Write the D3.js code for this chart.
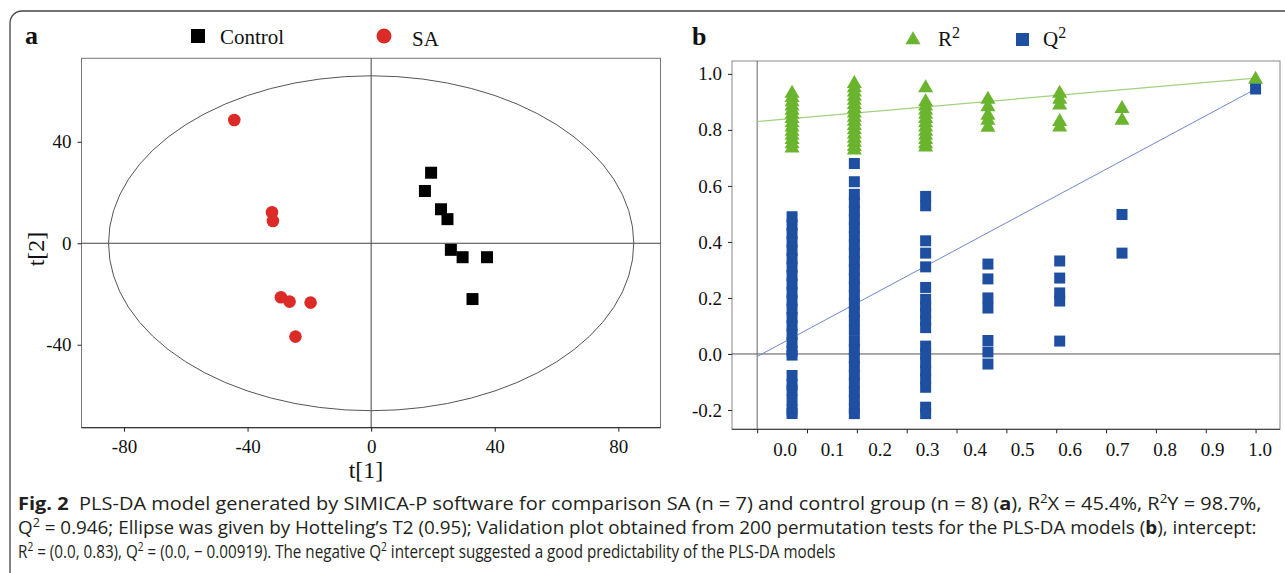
<!DOCTYPE html>
<html>
<head>
<meta charset="utf-8">
<script src="https://cdn.jsdelivr.net/npm/d3@7"></script>
<style>
  html, body { margin: 0; padding: 0; background: #fff; }
  svg { display: block; }
  .serif { font-family: "Liberation Serif", "DejaVu Serif", serif; fill: #111; }
  .cap { font-family: "Open Sans", "Noto Sans", sans-serif; fill: #231f20; font-size: 18px; white-space: pre; }
</style>
</head>
<body>
<svg id="fig" width="1285" height="573"></svg>
<script>
"use strict";

// ---- panel a: PLS-DA score plot ----
const scoreGroups = ["Control", "SA"];
const controlT1 = [19.4, 17.4, 22.6, 24.7, 25.8, 29.6, 37.5, 32.8];
const controlT2 = [27.8, 20.6, 13.4, 9.5, -2.6, -5.5, -5.5, -22.0];
const saT1 = [-44.3, -32.1, -31.8, -29.2, -26.4, -19.6, -24.5];
const saT2 = [48.6, 12.2, 8.8, -21.3, -23.0, -23.4, -36.8];
const hotelling = [85, 66];          // ellipse radii on t[1], t[2]
const t1Ticks = [-80, -40, 0, 40, 80];
const t2Ticks = [-40, 0, 40];

// ---- panel b: permutation validation ----
const permCorr = [0.07, 0.195, 0.338, 0.463, 0.607, 0.732, 1.0];
const r2Values = [
  [0.93, 0.915, 0.9, 0.885, 0.87, 0.855, 0.84, 0.825, 0.81, 0.795, 0.78, 0.765, 0.75, 0.735],
  [0.965, 0.95, 0.935, 0.92, 0.905, 0.89, 0.875, 0.86, 0.845, 0.83, 0.815, 0.8, 0.785, 0.77, 0.755, 0.74, 0.728],
  [0.95, 0.9, 0.885, 0.87, 0.855, 0.84, 0.825, 0.81, 0.795, 0.78, 0.765, 0.75, 0.738],
  [0.909, 0.882, 0.852, 0.834, 0.809],
  [0.93, 0.909, 0.888, 0.829, 0.81],
  [0.876, 0.834],
  [0.98]
];
const q2Values = [
  [0.49, 0.46, 0.43, 0.4, 0.37, 0.34, 0.31, 0.28, 0.25, 0.22, 0.19, 0.16, 0.13, 0.1, 0.07, 0.04, 0.01, -0.004,
   -0.077, -0.11, -0.13, -0.165, -0.2, -0.2125],
  [0.68, 0.615, 0.57, 0.54, 0.51, 0.48, 0.45, 0.42, 0.39, 0.36, 0.33, 0.3, 0.27, 0.24, 0.21, 0.18, 0.15, 0.12,
   0.084, 0.045, 0.015, -0.015, -0.045, -0.075, -0.105, -0.135, -0.165, -0.195, -0.213],
  [0.5625, 0.529, 0.404, 0.36, 0.311, 0.2375, 0.195, 0.17, 0.145, 0.12, 0.094,
   0.028, 0.0, -0.03, -0.06, -0.09, -0.119, -0.19, -0.213],
  [0.321, 0.268, 0.2, 0.164, 0.048, 0.007, -0.036],
  [0.332, 0.271, 0.218, 0.189, 0.046],
  [0.498, 0.36],
  [0.946]
];
const r2Intercept = [0.83, 0.985];    // fitted line at corr 0 and 1
const q2Intercept = [-0.00919, 0.946];
const corrTicks = [0, 0.1, 0.2, 0.3, 0.4, 0.5, 0.6, 0.7, 0.8, 0.9, 1.0];
const validTicks = [-0.2, 0, 0.2, 0.4, 0.6, 0.8, 1.0];

// ---- caption ----
const captionLines = [
  [["Fig. 2", "b"], ["  PLS-DA model generated by SIMICA-P software for comparison SA (n = 7) and control group (n = 8) ("], ["a", "b"],
   ["), R"], ["2", "s"], ["X = 45.4%, R"], ["2", "s"], ["Y = 98.7%,"]],
  [["Q"], ["2", "s"], [" = 0.946; Ellipse was given by Hotteling\u2019s T2 (0.95); Validation plot obtained from 200 permutation tests for the PLS-DA models ("],
   ["b", "b"], ["), intercept:"]],
  [["R"], ["2", "s"], [" = (0.0, 0.83), Q"], ["2", "s"], [" = (0.0, \u2212 0.00919). The negative Q"], ["2", "s"],
   [" intercept suggested a good predictability of the PLS-DA models"]]
];
const captionWidths = [1244, 1240, 818];

const SERIF = "'Liberation Serif', 'DejaVu Serif', serif";
const svg = d3.select("#fig");
const hyphenMinus = f => (d => f(d).replace("\u2212", "-"));

/**
 * Styles an axis group: serif labels, dark ticks, no domain path
 */
function styleAxis(g, size)
{
  g.attr("font-family", SERIF).attr("font-size", size).attr("color", "#222");
  g.select(".domain").remove();
  g.selectAll("text").attr("fill", "#111");
}

/**
 * Panel a: score scatter with Hotelling ellipse
 */
function drawScores()
{
  const x = d3.scaleLinear().domain([-93.75, 93.65]).range([81.5, 660.5]);
  const y = d3.scaleLinear().domain([-72.7, 72.9]).range([427.7, 58.3]);
  const g = svg.append("g");
  const [x0, x1] = x.range(), [y1, y0] = y.range();

  g.append("rect").attr("x", x0).attr("y", y0).attr("width", x1 - x0).attr("height", y1 - y0)
   .attr("fill", "none").attr("stroke", "#777").attr("stroke-width", 1);
  g.append("line").attr("x1", x0).attr("x2", x1).attr("y1", y(0)).attr("y2", y(0)).attr("stroke", "#444");
  g.append("line").attr("x1", x(0)).attr("x2", x(0)).attr("y1", y0).attr("y2", y1).attr("stroke", "#444");
  g.append("line").attr("x1", x0).attr("x2", x1).attr("y1", y1).attr("y2", y1).attr("stroke", "#222");

  g.append("ellipse")
   .attr("cx", x(0)).attr("cy", y(0))
   .attr("rx", x(hotelling[0]) - x(0)).attr("ry", y(0) - y(hotelling[1]))
   .attr("fill", "none").attr("stroke", "#555").attr("stroke-width", 1);

  g.append("g").attr("transform", "translate(0," + y1 + ")")
   .call(d3.axisBottom(x).tickValues(t1Ticks).tickSize(4).tickPadding(8).tickFormat(hyphenMinus(d3.format("d"))))
   .call(a => styleAxis(a, 19));
  g.append("g").attr("transform", "translate(" + x0 + ",0)")
   .call(d3.axisLeft(y).tickValues(t2Ticks).tickSize(4).tickPadding(6).tickFormat(hyphenMinus(d3.format("d"))))
   .call(a => styleAxis(a, 19));

  g.append("text").attr("class", "serif").attr("x", 366).attr("y", 478)
   .attr("text-anchor", "middle").attr("font-size", 24).text("t[1]");
  g.append("text").attr("class", "serif").attr("transform", "translate(44,249) rotate(-90)")
   .attr("text-anchor", "middle").attr("font-size", 24).text("t[2]");

  const control = d3.zip(controlT1, controlT2);
  const sa = d3.zip(saT1, saT2);
  g.selectAll("path.ctrl").data(control).join("path").attr("class", "ctrl")
   .attr("d", d3.symbol(d3.symbolSquare, 144))
   .attr("transform", d => "translate(" + x(d[0]) + "," + y(d[1]) + ")")
   .attr("fill", "#000");
  g.selectAll("circle.sa").data(sa).join("circle").attr("class", "sa")
   .attr("cx", d => x(d[0])).attr("cy", d => y(d[1])).attr("r", 6.3)
   .attr("fill", "#dc2b27");

  // panel letter and legend
  g.append("text").attr("class", "serif").attr("x", 25).attr("y", 44)
   .attr("font-size", 26).attr("font-weight", "bold").text("a");
  g.append("rect").attr("x", 191).attr("y", 29).attr("width", 14).attr("height", 14).attr("fill", "#000");
  g.append("text").attr("class", "serif").attr("x", 220).attr("y", 44).attr("font-size", 21).text(scoreGroups[0]);
  g.append("circle").attr("cx", 384).attr("cy", 36).attr("r", 7.5).attr("fill", "#dc2b27");
  g.append("text").attr("class", "serif").attr("x", 412).attr("y", 46).attr("font-size", 21).text(scoreGroups[1]);
}

/**
 * Panel b: R2 / Q2 permutation plot
 */
function drawValidation()
{
  const x = d3.scaleLinear().domain([-0.0505, 1.049]).range([732, 1280]);
  const y = d3.scaleLinear().domain([-0.269, 1.046]).range([429.3, 61]);
  // the original plot prints its corr labels offset from the tick marks
  const labelX = d3.scaleLinear().domain([0, 1]).range([x(0.055), x(1.008)]);
  const g = svg.append("g");
  const [x0, x1] = x.range(), [y1, y0] = y.range();

  g.append("rect").attr("x", x0).attr("y", y0).attr("width", x1 - x0).attr("height", y1 - y0)
   .attr("fill", "none").attr("stroke", "#888").attr("stroke-width", 1);
  g.append("line").attr("x1", x0).attr("x2", x1).attr("y1", y(0)).attr("y2", y(0)).attr("stroke", "#555");
  g.append("line").attr("x1", x(0)).attr("x2", x(0)).attr("y1", y0).attr("y2", y1).attr("stroke", "#666");
  g.append("line").attr("x1", x0).attr("x2", x1).attr("y1", y1).attr("y2", y1).attr("stroke", "#333");

  const bx = g.append("g").attr("transform", "translate(0," + y1 + ")")
   .call(d3.axisBottom(x).tickValues(corrTicks).tickSize(4).tickPadding(9).tickFormat(d3.format(".1f")))
   .call(a => styleAxis(a, 19));
  bx.selectAll(".tick text").attr("x", d => labelX(d) - x(d));
  g.append("g").attr("transform", "translate(" + x0 + ",0)")
   .call(d3.axisLeft(y).tickValues(validTicks).tickSize(4).tickPadding(6).tickFormat(hyphenMinus(d3.format(".1f"))))
   .call(a => styleAxis(a, 19));

  // intercept lines
  g.append("line").attr("x1", x(0)).attr("y1", y(r2Intercept[0])).attr("x2", x(1)).attr("y2", y(r2Intercept[1]))
   .attr("stroke", "#9fd27e").attr("stroke-width", 1.2);
  g.append("line").attr("x1", x(0)).attr("y1", y(q2Intercept[0])).attr("x2", x(1)).attr("y2", y(q2Intercept[1]))
   .attr("stroke", "#7088cc").attr("stroke-width", 1);

  const r2 = permCorr.flatMap((c, i) => r2Values[i].map(v => [c, v]));
  const q2 = permCorr.flatMap((c, i) => q2Values[i].map(v => [c, v]));
  g.selectAll("path.r2").data(r2).join("path").attr("class", "r2")
   .attr("d", d3.symbol(d3.symbolTriangle, 98))
   .attr("transform", d => "translate(" + x(d[0]) + "," + y(d[1]) + ")")
   .attr("fill", "#6ab42e");
  g.selectAll("path.q2").data(q2).join("path").attr("class", "q2")
   .attr("d", d3.symbol(d3.symbolSquare, 121))
   .attr("transform", d => "translate(" + x(d[0]) + "," + y(d[1]) + ")")
   .attr("fill", "#1f4fa0");

  // panel letter and legend
  g.append("text").attr("class", "serif").attr("x", 692).attr("y", 45)
   .attr("font-size", 26).attr("font-weight", "bold").text("b");
  g.append("path").attr("d", d3.symbol(d3.symbolTriangle, 98)).attr("transform", "translate(913,40)").attr("fill", "#6ab42e");
  const r2t = g.append("text").attr("class", "serif").attr("x", 938).attr("y", 46).attr("font-size", 21);
  r2t.append("tspan").text("R");
  r2t.append("tspan").attr("dy", -8).attr("font-size", 16).text("2");
  g.append("rect").attr("x", 1016).attr("y", 33).attr("width", 13).attr("height", 13).attr("fill", "#1f4fa0");
  const q2t = g.append("text").attr("class", "serif").attr("x", 1043).attr("y", 46).attr("font-size", 21);
  q2t.append("tspan").text("Q");
  q2t.append("tspan").attr("dy", -8).attr("font-size", 16).text("2");
}

/**
 * Builds one caption line out of its plain / bold / superscript pieces
 */
function captionLine(line)
{
  const t = svg.append("text").attr("class", "cap").attr("x", 0).attr("y", 0);
  let raised = false;
  line.forEach(([s, kind]) =>
  {
    const sp = t.append("tspan").text(s);
    if (kind === "b")
      sp.attr("font-weight", "bold");
    if (kind === "s")
    {
      sp.attr("font-size", 12).attr("dy", -7);
      raised = true;
    }
    else if (raised)
    {
      sp.attr("dy", 7);
      raised = false;
    }
  });
  return t;
}

/**
 * Caption: every line fitted horizontally to the width it has in the figure
 */
function drawCaption()
{
  const base = [510, 534, 558];
  captionLines.map(captionLine).forEach((t, i) =>
  {
    const w = t.node().getComputedTextLength();
    t.attr("transform", "translate(18," + base[i] + ") scale(" + (captionWidths[i] / w) + ",1)");
  });
}

// outer frame with the rounded top-left corner
svg.append("path").attr("d", "M10,573 V23 A12,12 0 0 1 22,11 H1285")
   .attr("fill", "none").attr("stroke", "#444").attr("stroke-width", 1.3);

drawScores();
drawValidation();
drawCaption();
</script>
</body>
</html>
